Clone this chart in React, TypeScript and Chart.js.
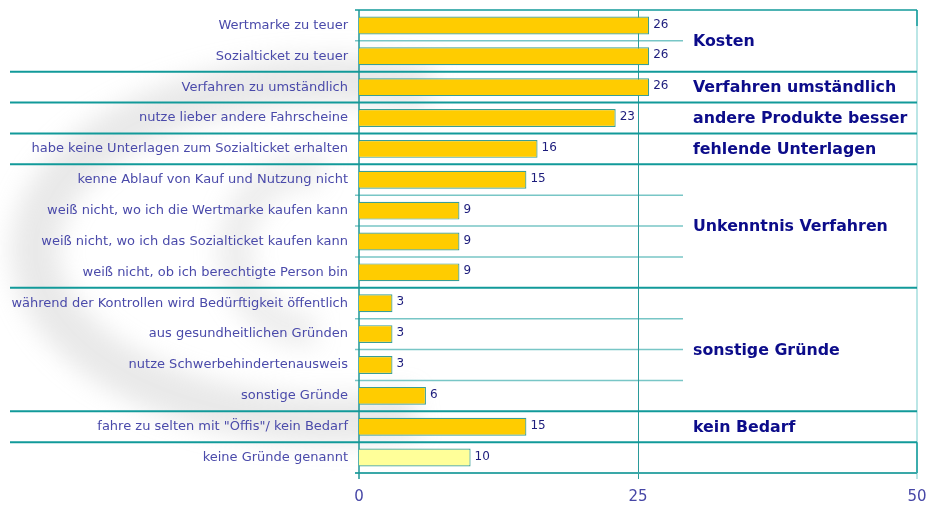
import React, { useEffect, useRef } from "react";
import { Chart, registerables } from "chart.js";

Chart.register(...registerables);

const categories = [
  "Wertmarke zu teuer",
  "Sozialticket zu teuer",
  "Verfahren zu umständlich",
  "nutze lieber andere Fahrscheine",
  "habe keine Unterlagen zum Sozialticket erhalten",
  "kenne Ablauf von Kauf und Nutzung nicht",
  "weiß nicht, wo ich die Wertmarke kaufen kann",
  "weiß nicht, wo ich das Sozialticket kaufen kann",
  "weiß nicht, ob ich berechtigte Person bin",
  "während der Kontrollen wird Bedürftigkeit öffentlich",
  "aus gesundheitlichen Gründen",
  "nutze Schwerbehindertenausweis",
  "sonstige Gründe",
  "fahre zu selten mit \"Öffis\"/ kein Bedarf",
  "keine Gründe genannt",
];

const values = [26, 26, 26, 23, 16, 15, 9, 9, 9, 3, 3, 3, 6, 15, 10];

const groupNames = [
  "Kosten",
  "Verfahren umständlich",
  "andere Produkte besser",
  "fehlende Unterlagen",
  "Unkenntnis Verfahren",
  "sonstige Gründe",
  "kein Bedarf",
  "",
];
const groupSizes = [2, 1, 1, 1, 4, 4, 1, 1];

const xTickValues = [0, 25, 50];

const FONT = "'DejaVu Sans', Verdana, sans-serif";
const DARK_TEAL = "#129a9a";
const LIGHT_TEAL = "#78c6c6";

function boundaryPixel(chart: any, i: number) {
  const y = chart.scales.y;
  const n = categories.length;
  const { top, bottom } = chart.chartArea;
  if (i <= 0) return top;
  if (i >= n) return bottom;
  return (y.getPixelForValue(i - 1) + y.getPixelForValue(i)) / 2;
}

function groupStarts() {
  const starts: number[] = [0];
  let acc = 0;
  for (const s of groupSizes) {
    acc += s;
    starts.push(acc);
  }
  return starts;
}

const overlayPlugin = {
  id: "overlay",
  beforeDraw(chart: any) {
    const { ctx, width, height } = chart;
    ctx.save();
    ctx.fillStyle = "#ffffff";
    ctx.fillRect(0, 0, width, height);
    // faint swirl watermark
    ctx.filter = "blur(12px)";
    ctx.strokeStyle = "rgba(175,175,175,0.28)";
    ctx.lineWidth = 48;
    ctx.beginPath();
    ctx.ellipse(335, 250, 300, 170, 0, -1.25, 1.3, true);
    ctx.stroke();
    ctx.strokeStyle = "rgba(175,175,175,0.22)";
    ctx.lineWidth = 34;
    ctx.beginPath();
    ctx.ellipse(310, 250, 75, 80, 0, -1.4, 1.5, true);
    ctx.stroke();
    ctx.filter = "none";
    ctx.restore();
  },
  beforeDatasetsDraw(chart: any) {
    const { ctx, chartArea } = chart;
    const x = chart.scales.x;
    const { top, bottom, left, right } = chartArea;
    const n = categories.length;
    const starts = groupStarts();
    const tableLeft = 683;
    const labelLeft = 10;
    ctx.save();
    // thin category gridlines
    ctx.strokeStyle = LIGHT_TEAL;
    ctx.lineWidth = 1.5;
    for (let i = 1; i < n; i++) {
      if (starts.includes(i)) continue;
      const yy = boundaryPixel(chart, i);
      ctx.beginPath();
      ctx.moveTo(left - 4, yy);
      ctx.lineTo(tableLeft, yy);
      ctx.stroke();
    }
    // vertical gridline at 25
    ctx.strokeStyle = "#2a9a9a";
    ctx.lineWidth = 1;
    const x25 = Math.round(x.getPixelForValue(xTickValues[1])) + 0.5;
    ctx.beginPath();
    ctx.moveTo(x25, top);
    ctx.lineTo(x25, bottom + 6);
    ctx.stroke();
    // right border light
    ctx.strokeStyle = "#a4dede";
    ctx.lineWidth = 1.5;
    ctx.beginPath();
    ctx.moveTo(right, top);
    ctx.lineTo(right, bottom + 6);
    ctx.stroke();
    // right border dark top segment
    ctx.strokeStyle = DARK_TEAL;
    ctx.lineWidth = 1.5;
    ctx.beginPath();
    ctx.moveTo(right, top);
    ctx.lineTo(right, top + 16);
    ctx.stroke();
    // last box right edge
    const lastB = boundaryPixel(chart, starts[starts.length - 2]);
    ctx.beginPath();
    ctx.moveTo(right, lastB);
    ctx.lineTo(right, bottom);
    ctx.stroke();
    // top border
    ctx.lineWidth = 1.5;
    ctx.beginPath();
    ctx.moveTo(left - 4, top);
    ctx.lineTo(right, top);
    ctx.stroke();
    // group separators
    ctx.lineWidth = 2;
    ctx.strokeStyle = DARK_TEAL;
    for (let k = 1; k < starts.length - 1; k++) {
      const yy = boundaryPixel(chart, starts[k]);
      ctx.beginPath();
      ctx.moveTo(labelLeft, yy);
      ctx.lineTo(right, yy);
      ctx.stroke();
    }
    // bottom border
    ctx.strokeStyle = "#3aa8a8";
    ctx.lineWidth = 2;
    ctx.beginPath();
    ctx.moveTo(left - 4, bottom);
    ctx.lineTo(right, bottom);
    ctx.stroke();
    // y axis line
    ctx.strokeStyle = "#1e9696";
    ctx.lineWidth = 1.5;
    ctx.beginPath();
    ctx.moveTo(left, top);
    ctx.lineTo(left, bottom + 6);
    ctx.stroke();
    ctx.restore();
  },
  afterDatasetsDraw(chart: any) {
    const { ctx } = chart;
    const x = chart.scales.x;
    const y = chart.scales.y;
    const starts = groupStarts();
    ctx.save();
    // value labels
    ctx.font = `12px ${FONT}`;
    ctx.fillStyle = "#1c1c7c";
    ctx.textAlign = "left";
    ctx.textBaseline = "middle";
    values.forEach((v, i) => {
      ctx.fillText(String(v), x.getPixelForValue(v) + 4, y.getPixelForValue(i) - 1);
    });
    // group labels
    ctx.font = `bold 15.8px ${FONT}`;
    ctx.fillStyle = "#0c0c8a";
    groupNames.forEach((name, k) => {
      if (!name) return;
      const y0 = boundaryPixel(chart, starts[k]);
      const y1 = boundaryPixel(chart, starts[k + 1]);
      ctx.fillText(name, 693, (y0 + y1) / 2 + 1);
    });
    ctx.restore();
  },
};

export default function App() {
  const canvasRef = useRef<HTMLCanvasElement | null>(null);

  useEffect(() => {
    document.body.style.margin = "0";
    const canvas = canvasRef.current;
    if (!canvas) return;
    const last = categories.length - 1;
    const chart = new Chart(canvas, {
      type: "bar",
      data: {
        labels: categories,
        datasets: [
          {
            data: values,
            backgroundColor: (c: any) => (c.dataIndex === last ? "#ffff99" : "#ffcc00"),
            borderColor: "#3a9e96",
            borderWidth: 1.2,
            barPercentage: 0.58,
            categoryPercentage: 1,
          },
        ],
      },
      options: {
        indexAxis: "y",
        animation: false,
        responsive: false,
        devicePixelRatio: 1,
        layout: { padding: { top: 10, right: 12, left: 0, bottom: 0 } },
        plugins: {
          legend: { display: false },
          tooltip: { enabled: false },
        },
        scales: {
          x: {
            type: "linear",
            min: 0,
            max: 50,
            afterBuildTicks: (s: any) => {
              s.ticks = xTickValues.map((v) => ({ value: v }));
            },
            afterFit: (s: any) => {
              s.height = 32;
              s.paddingLeft = 0;
              s.paddingRight = 0;
            },
            grid: { display: false, drawTicks: false },
            border: { display: false },
            ticks: {
              color: "#4646a6",
              font: { family: FONT, size: 15 },
              padding: 15,
              maxRotation: 0,
            },
          },
          y: {
            type: "category",
            afterFit: (s: any) => {
              s.width = 359;
              s.paddingTop = 0;
              s.paddingBottom = 0;
            },
            grid: { display: false, drawTicks: false },
            border: { display: false },
            ticks: {
              color: "#4a4aaa",
              font: { family: FONT, size: 13 },
              padding: 11,
              autoSkip: false,
            },
          },
        },
      },
      plugins: [overlayPlugin],
    } as any);
    return () => chart.destroy();
  }, []);

  return (
    <div style={{ width: 929, height: 505 }}>
      <canvas ref={canvasRef} width={929} height={505} style={{ display: "block" }} />
    </div>
  );
}
